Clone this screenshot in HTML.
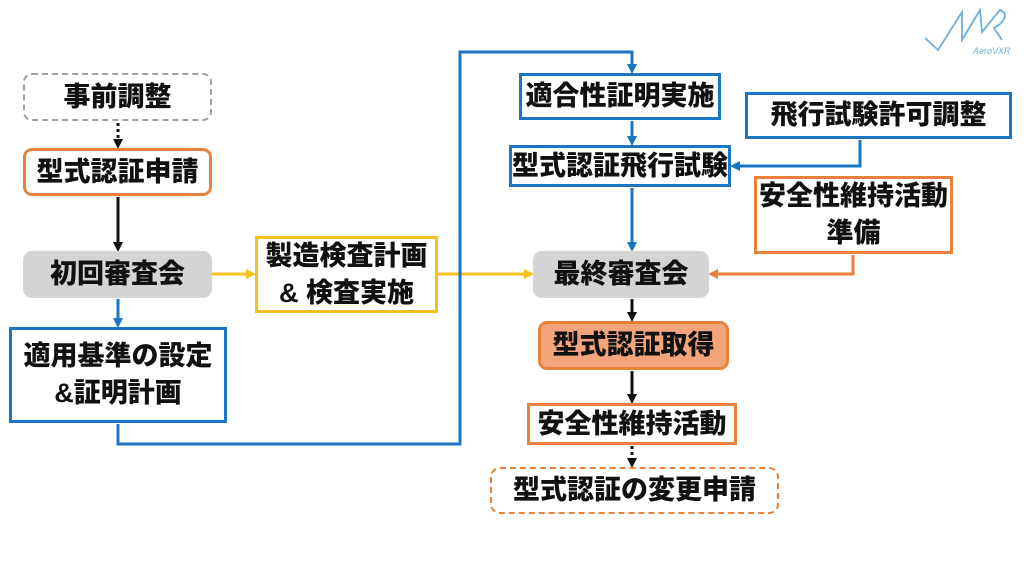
<!DOCTYPE html>
<html><head><meta charset="utf-8"><style>
body{margin:0;width:1024px;height:576px;background:#fff;position:relative;overflow:hidden;font-family:"Liberation Sans","Noto Sans CJK JP",sans-serif;}
.b{position:absolute;box-sizing:border-box;display:flex;align-items:center;justify-content:center;text-align:center;font-weight:900;font-size:27px;line-height:37px;color:#111;letter-spacing:0px;background:#fff;white-space:nowrap;}
svg{position:absolute;left:0;top:0;}
</style></head><body>
<svg width="1024" height="576" viewBox="0 0 1024 576">
<defs>
<marker id="k" markerWidth="10" markerHeight="10" refX="7" refY="5" orient="auto" markerUnits="userSpaceOnUse"><path d="M0,0 L10,5 L0,10z" fill="#111"/></marker>
<marker id="bl" markerWidth="10" markerHeight="10" refX="7" refY="5" orient="auto" markerUnits="userSpaceOnUse"><path d="M0,0 L10,5 L0,10z" fill="#1a75c4"/></marker>
<marker id="y" markerWidth="10" markerHeight="10" refX="7" refY="5" orient="auto" markerUnits="userSpaceOnUse"><path d="M0,0 L10,5 L0,10z" fill="#f5c020"/></marker>
<marker id="o" markerWidth="10" markerHeight="10" refX="7" refY="5" orient="auto" markerUnits="userSpaceOnUse"><path d="M0,0 L10,5 L0,10z" fill="#e8823a"/></marker>
</defs>
<g fill="none" stroke-width="3">
<path d="M118,123 V146" stroke="#111" stroke-dasharray="3,3" marker-end="url(#k)"/>
<path d="M118,197 V249" stroke="#111" marker-end="url(#k)"/>
<path d="M118,299 V325" stroke="#1a75c4" marker-end="url(#bl)"/>
<path d="M212,274 H253" stroke="#f5c020" marker-end="url(#y)"/>
<path d="M438,274 H531" stroke="#f5c020" marker-end="url(#y)"/>
<path d="M118,424 V444 H460 V52 H632 V71" stroke="#1a75c4" marker-end="url(#bl)"/>
<path d="M632,121 V143" stroke="#1a75c4" marker-end="url(#bl)"/>
<path d="M632,188 V249" stroke="#1a75c4" marker-end="url(#bl)"/>
<path d="M860,140 V166 H733" stroke="#1a75c4" marker-end="url(#bl)"/>
<path d="M853,255 V274 H711" stroke="#e8823a" marker-end="url(#o)"/>
<path d="M632,299 V319" stroke="#111" marker-end="url(#k)"/>
<path d="M632,371 V401" stroke="#111" marker-end="url(#k)"/>
<path d="M632,446 V465" stroke="#111" stroke-dasharray="3,3" marker-end="url(#k)"/>
</g>
<g stroke="#6ab0e0" stroke-width="1.8" fill="none">
<path d="M925,38 L938,50 L962,12 L962,40 L980,10 L982,32 L1000,10 Q1010,14 1000,24 L994,28 L1002,40"/>
</g>
<text x="973" y="54" font-size="9" font-style="italic" fill="#6ab0e0" font-family="Liberation Sans,sans-serif">AeroVXR</text>
</svg>
<div class="b" style="left:23px;top:73px;width:189px;height:48px;border:2.5px dashed #a0a0a0;border-radius:9px;">事前調整</div>
<div class="b" style="left:23px;top:148px;width:189px;height:48px;border:3px solid #e8823a;border-radius:9px;">型式認証申請</div>
<div class="b" style="left:23px;top:251px;width:189px;height:47px;background:#d4d4d4;border-radius:9px;">初回審査会</div>
<div class="b" style="left:9px;top:327px;width:218px;height:96px;border:3px solid #1a75c4;">適用基準の設定<br>&amp;証明計画</div>
<div class="b" style="left:255px;top:236px;width:183px;height:77px;border:3px solid #f5c020;">製造検査計画<br>&amp; 検査実施</div>
<div class="b" style="left:519px;top:73px;width:202px;height:47px;border:3px solid #1a75c4;">適合性証明実施</div>
<div class="b" style="left:509px;top:145px;width:222px;height:42px;border:3px solid #1a75c4;">型式認証飛行試験</div>
<div class="b" style="left:745px;top:92px;width:267px;height:47px;border:3px solid #1a75c4;">飛行試験許可調整</div>
<div class="b" style="left:754px;top:176px;width:199px;height:78px;border:3px solid #e8823a;">安全性維持活動<br>準備</div>
<div class="b" style="left:533px;top:251px;width:176px;height:47px;background:#d4d4d4;border-radius:9px;">最終審査会</div>
<div class="b" style="left:538px;top:321px;width:191px;height:49px;background:#f4a47a;border:3px solid #e8823a;border-radius:9px;">型式認証取得</div>
<div class="b" style="left:527px;top:403px;width:210px;height:42px;border:3px solid #e8823a;">安全性維持活動</div>
<div class="b" style="left:490px;top:467px;width:289px;height:47px;border:2.5px dashed #e8823a;border-radius:10px;">型式認証の変更申請</div>
</body></html>
